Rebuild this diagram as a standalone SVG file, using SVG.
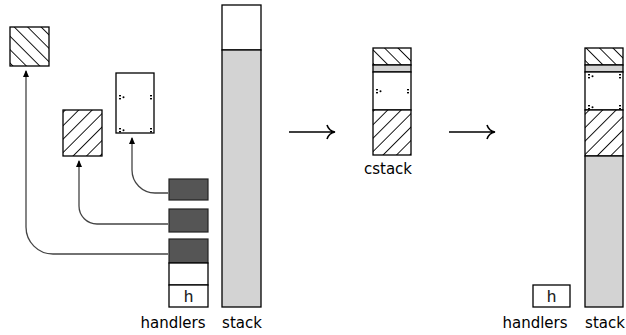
<svg xmlns="http://www.w3.org/2000/svg" width="626" height="335" viewBox="0 0 626 335">
<style>
.box{stroke:#000;stroke-width:1.3}
.dark{fill:#555;stroke:#222;stroke-width:1.2}
.gray{fill:#d3d3d3}
.white{fill:#fff}
.conn{fill:none;stroke:#444;stroke-width:1.3}
.lbl{font-family:"DejaVu Sans",sans-serif;font-size:15px;fill:#000}
.mono{font-family:"Liberation Mono","DejaVu Sans Mono",monospace;font-size:17px;fill:#222}
.big{fill:none;stroke:#000;stroke-width:1.6}
</style>
<defs>
<pattern id="bs" patternUnits="userSpaceOnUse" width="9.5" height="9.5" patternTransform="rotate(-45)">
<rect width="9.5" height="9.5" fill="#fff"/>
<line x1="0" y1="0" x2="0" y2="9.5" stroke="#000" stroke-width="1.8"/>
</pattern>
<pattern id="sl" patternUnits="userSpaceOnUse" width="9.5" height="9.5" patternTransform="rotate(45)">
<rect width="9.5" height="9.5" fill="#fff"/>
<line x1="0" y1="0" x2="0" y2="9.5" stroke="#000" stroke-width="1.8"/>
</pattern>
<marker id="ah" markerWidth="8" markerHeight="8" refX="6" refY="4" orient="auto" markerUnits="userSpaceOnUse">
<path d="M0,1 L7,4 L0,7 Z" fill="#000"/>
</marker>
<g id="mL"><rect x="0" y="0" width="2" height="1.4" fill="#000"/><rect x="0" y="3" width="2" height="1.4" fill="#000"/><circle cx="4.5" cy="2.2" r="1" fill="#000"/></g>
<g id="mR"><rect x="0" y="0" width="2" height="1.4" fill="#000"/><rect x="0" y="3" width="2" height="1.4" fill="#000"/></g>
</defs>

<g id="connectors">
<path class="conn" d="M168,254 H53 A27,27 0 0 1 26,227 V71" marker-end="url(#ah)"/>
<path class="conn" d="M168,224 H97 A18,18 0 0 1 79,206 V161" marker-end="url(#ah)"/>
<path class="conn" d="M168,193 H155 A23,23 0 0 1 132,170 V138" marker-end="url(#ah)"/>
</g>

<g id="frame1">
<rect class="box" x="10" y="27" width="39" height="39" fill="url(#bs)"/>
</g>
<g id="frame2">
<rect class="box" x="63" y="110" width="39" height="46" fill="url(#sl)"/>
</g>
<g id="frame3">
<rect class="box white" x="116" y="73" width="38" height="60"/>
<use href="#mL" x="119" y="95"/>
<use href="#mR" x="150" y="95"/>
<use href="#mL" x="119" y="128"/>
<use href="#mR" x="150" y="128"/>
</g>

<g id="handlers">
<rect class="dark" x="169" y="179" width="39" height="21"/>
<rect class="dark" x="169" y="209" width="39" height="23"/>
<rect class="dark" x="169" y="239" width="39" height="24"/>
<rect class="box white" x="169" y="263" width="39" height="22"/>
<rect class="box white" x="169" y="285" width="39" height="22"/>
<text class="mono" x="188.5" y="302" text-anchor="middle">h</text>
<text class="lbl" x="173" y="328" text-anchor="middle">handlers</text>
</g>

<g id="stack">
<rect class="box white" x="222" y="5" width="39" height="45"/>
<rect class="box gray" x="222" y="50" width="39" height="257"/>
<text class="lbl" x="242" y="328" text-anchor="middle">stack</text>
</g>

<g id="arrow1">
<path class="big" d="M289,132 H334 M327,125 Q329,131 335,132 Q329,133 327,139"/>
</g>
<g id="arrow2">
<path class="big" d="M449,132 H494 M487,125 Q489,131 495,132 Q489,133 487,139"/>
</g>

<g id="cstack">
<rect class="box" x="373" y="48" width="38" height="17" fill="url(#bs)"/>
<rect class="box gray" x="373" y="65" width="38" height="7"/>
<rect class="box white" x="373" y="72" width="38" height="38"/>
<use href="#mL" x="376" y="89"/>
<use href="#mR" x="407" y="89"/>
<rect class="box" x="373" y="110" width="38" height="45" fill="url(#sl)"/>
<text class="lbl" x="388" y="174" text-anchor="middle">cstack</text>
</g>

<g id="handlers2">
<rect class="box white" x="533" y="285" width="37" height="22"/>
<text class="mono" x="551.5" y="302" text-anchor="middle">h</text>
<text class="lbl" x="535" y="328" text-anchor="middle">handlers</text>
</g>

<g id="stack2">
<rect class="box" x="585" y="48" width="38" height="17" fill="url(#bs)"/>
<rect class="box gray" x="585" y="65" width="38" height="7"/>
<rect class="box white" x="585" y="72" width="38" height="38"/>
<use href="#mL" x="588" y="74"/>
<use href="#mR" x="619" y="74"/>
<use href="#mL" x="588" y="105"/>
<use href="#mR" x="619" y="105"/>
<rect class="box" x="585" y="110" width="38" height="46" fill="url(#sl)"/>
<rect class="box gray" x="585" y="156" width="38" height="151"/>
<text class="lbl" x="605" y="328" text-anchor="middle">stack</text>
</g>
</svg>
